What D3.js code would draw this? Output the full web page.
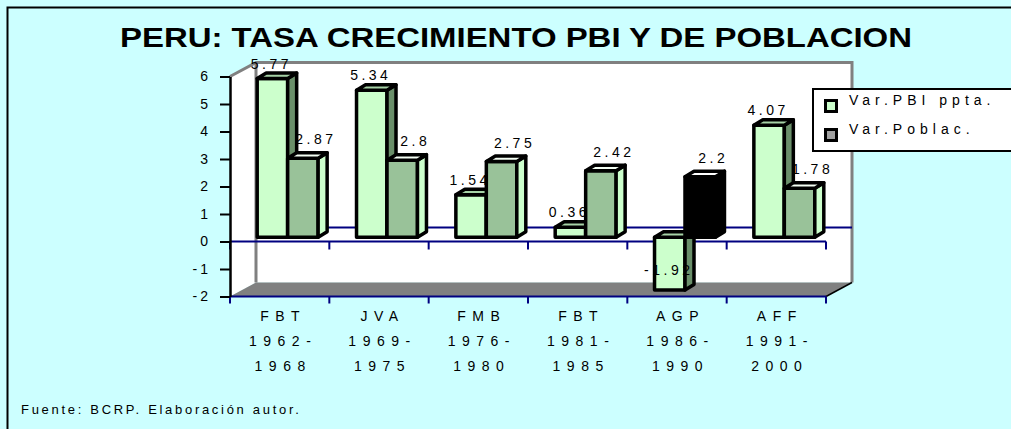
<!DOCTYPE html>
<html>
<head>
<meta charset="utf-8">
<script src="https://cdn.jsdelivr.net/npm/d3@7"></script>
<style>
body { margin: 0; background: #fff; }
svg { display: block; font-family: "Liberation Sans", Arial, sans-serif; }
</style>
</head>
<body>
<svg id="chart"></svg>
<script>
// data
var presidents = ['FBT', 'JVA', 'FMB', 'FBT', 'AGP', 'AFF']
var periodStart = ['1962', '1969', '1976', '1981', '1986', '1991']
var periodEnd = ['1968', '1975', '1980', '1985', '1990', '2000']
var seriesNames = ['Var.PBI ppta.', 'Var.Poblac.']
var pbiValues = [5.77, 5.34, 1.54, 0.36, -1.92, 4.07]
var poblacValues = [2.87, 2.8, 2.75, 2.42, 2.2, 1.78]
var yTicks = [-2, -1, 0, 1, 2, 3, 4, 5, 6]
var titleText = 'PERU: TASA CRECIMIENTO PBI Y DE POBLACION'
var sourceText = 'Fuente: BCRP. Elaboración autor.'

var width = 1011
var height = 429

// front plane of the 3d box (note: "top" is taken by window.top)
var plotLeft = 230, plotRight = 826, plotTop = 76.5, plotBottom = 296.5
// wall depth, bar offset from the front and bar thickness
var depthX = 26, depthY = -14
var barOffX = 8, barOffY = -4.3
var barDX = 9, barDY = -5.5

var navy = '#000080'
var wallGray = '#808080'
// the AGP population bar came out black in the original
var blackPoint = 4

var svg = d3.select('#chart').attr('width', width).attr('height', height)

var categories = presidents.map(function (p, i) { return i })
var x0 = d3.scaleBand().domain(categories).range([plotLeft, plotRight])
var x1 = d3.scaleBand().domain(seriesNames).range([0, x0.bandwidth()]).paddingOuter(0.63)
var y = d3.scaleLinear().domain([d3.min(yTicks), d3.max(yTicks)]).range([plotBottom, plotTop])

var line = d3.line()

// background + frame
svg.append('rect').attr('width', width).attr('height', height).attr('fill', '#CCFFFF')
svg.append('rect')
    .attr('x', 7.5).attr('y', 7.5)
    .attr('width', width + 20).attr('height', height + 20)
    .attr('fill', 'none').attr('stroke', '#000').attr('stroke-width', 2)

svg.append('text')
    .attr('x', 120).attr('y', 47)
    .attr('font-size', 27).attr('font-weight', 'bold')
    .attr('textLength', 792).attr('lengthAdjust', 'spacingAndGlyphs')
    .text(titleText)

// walls and floor
var yTop = y(d3.max(yTicks)), yBot = y(d3.min(yTicks))
var walls = svg.append('g').attr('class', 'walls')
walls.append('path')
    .attr('d', line([[plotLeft, yTop], [plotLeft + depthX, yTop + depthY], [plotLeft + depthX, yBot + depthY], [plotLeft, yBot]]) + 'Z')
    .attr('fill', '#fff')
walls.append('rect')
    .attr('x', plotLeft + depthX).attr('y', yTop + depthY)
    .attr('width', plotRight - plotLeft).attr('height', yBot - yTop)
    .attr('fill', '#fff')
walls.append('path')
    .attr('d', line([[plotLeft, yBot], [plotLeft + depthX, yBot + depthY], [plotRight + depthX, yBot + depthY], [plotRight, yBot]]) + 'Z')
    .attr('fill', wallGray)
walls.append('path')
    .attr('d', line([[plotLeft, yTop], [plotLeft + depthX, yTop + depthY], [plotRight + depthX, yTop + depthY], [plotRight + depthX, yBot + depthY]]))
    .attr('fill', 'none').attr('stroke', wallGray).attr('stroke-width', 3)
walls.append('path')
    .attr('d', line([[plotLeft + depthX, yTop + depthY], [plotLeft + depthX, yBot + depthY]]))
    .attr('stroke', wallGray).attr('stroke-width', 3)
walls.append('path')
    .attr('d', line([[plotRight, yBot], [plotRight + depthX, yBot + depthY]]))
    .attr('stroke', '#000').attr('stroke-width', 1.5)
// zero line on the back wall
walls.append('path')
    .attr('d', line([[plotLeft + depthX, y(0) + depthY], [plotRight + depthX, y(0) + depthY]]))
    .attr('stroke', navy).attr('stroke-width', 2)

// category axes: one at zero, one at the floor
var bounds = categories.map(function (c) { return x0(c) }).concat([plotRight])
function catAxis(yy, tick) {
    var g = svg.append('g')
    g.append('path').attr('d', line([[plotLeft, yy], [plotRight, yy]]))
        .attr('stroke', navy).attr('stroke-width', 2)
    g.selectAll('.tick').data(bounds).enter().append('path')
        .attr('d', function (b) { return line([[b, yy], [b, yy + tick]]) })
        .attr('stroke', navy).attr('stroke-width', 2)
}
catAxis(y(0), 8)
catAxis(yBot, 7)

// value axis
var yAxis = svg.append('g')
    .attr('transform', 'translate(' + plotLeft + ',0)')
    .call(d3.axisLeft(y).tickValues(yTicks).tickSize(10).tickSizeOuter(0).tickPadding(9)
        .tickFormat(function (d) { return String(d) }))
yAxis.select('.domain').attr('stroke', '#000').attr('stroke-width', 2.5)
yAxis.selectAll('.tick line').attr('stroke', '#000').attr('stroke-width', 2)
yAxis.selectAll('.tick text')
    .attr('font-family', '"Liberation Sans", Arial, sans-serif')
    .attr('font-size', 14).attr('fill', '#000')
    .style('letter-spacing', '3px')

// category labels, three lines each
var catLabels = svg.append('g').attr('font-size', 14).style('letter-spacing', '6.5px')
categories.forEach(function (c) {
    var lines = [presidents[c], periodStart[c] + '-', periodEnd[c]]
    var cx = x0(c) + x0.bandwidth() / 2 + 3.5
    catLabels.selectAll(null).data(lines).enter().append('text')
        .attr('x', cx)
        .attr('y', function (t, i) { return 321 + i * 25 })
        .attr('text-anchor', 'middle')
        .text(function (t) { return t })
})

// bars
var barData = []
categories.forEach(function (c) {
    barData.push({ cat: c, series: seriesNames[0], s: 0, value: pbiValues[c] })
    barData.push({ cat: c, series: seriesNames[1], s: 1, value: poblacValues[c] })
})

function faces(d) {
    var xl = x0(d.cat) + x1(d.series) + barOffX
    var xr = xl + x1.bandwidth()
    var yt = y(Math.max(0, d.value)) + barOffY
    var yb = y(Math.min(0, d.value)) + barOffY
    return {
        xl: xl, xr: xr, yt: yt, yb: yb,
        front: [[xl, yt], [xr, yt], [xr, yb], [xl, yb]],
        top: [[xl, yt], [xl + barDX, yt + barDY], [xr + barDX, yt + barDY], [xr, yt]],
        side: [[xr, yt], [xr + barDX, yt + barDY], [xr + barDX, yb + barDY], [xr, yb]]
    }
}

function colors(d) {
    if (d.s === 1 && d.cat === blackPoint) return { front: '#000', top: '#fff', side: '#000' }
    if (d.s === 0) return { front: '#CCFFCC', top: '#A6D2A6', side: '#6A8F6A' }
    return { front: '#99C299', top: '#F4FFF4', side: '#CCFFCC' }
}

var barGroup = svg.append('g')
barData.forEach(function (d) {
    var f = faces(d)
    var col = colors(d)
    var g = barGroup.append('g')
        .attr('stroke', '#000').attr('stroke-width', 3.5).attr('stroke-linejoin', 'round')
    ;['front', 'side', 'top'].forEach(function (k) {
        g.append('path').attr('d', line(f[k]) + 'Z').attr('fill', col[k])
    })
    // label right after its own bar so the next bar can cover it
    var lx, ly
    if (d.s === 0) {
        lx = (f.xl + f.xr) / 2 - 3
        ly = d.value < 0 ? f.yb - 15 : f.yt - 10
    } else {
        lx = (f.xl + f.xr) / 2 + 11
        ly = f.yt - 14
    }
    barGroup.append('text')
        .attr('x', lx + 2).attr('y', ly)
        .attr('text-anchor', 'middle')
        .attr('font-size', 14)
        .style('letter-spacing', '3.5px')
        .text(String(d.value))
})

// legend
var legend = svg.append('g')
legend.append('rect')
    .attr('x', 813).attr('y', 89).attr('width', 220).attr('height', 62)
    .attr('fill', '#fff').attr('stroke', '#000').attr('stroke-width', 2)
var legendFill = ['#CCFFCC', '#A0A0A0']
seriesNames.forEach(function (name, i) {
    legend.append('rect')
        .attr('x', 825.5).attr('y', 100.5 + i * 29)
        .attr('width', 11).attr('height', 11)
        .attr('fill', legendFill[i]).attr('stroke', '#000').attr('stroke-width', 3)
    legend.append('text')
        .attr('x', 849).attr('y', 105 + i * 29)
        .attr('font-size', 14)
        .style('letter-spacing', '5px')
        .text(name)
})

svg.append('text')
    .attr('x', 21).attr('y', 414)
    .attr('font-size', 13)
    .style('letter-spacing', '2.7px')
    .text(sourceText)
</script>
</body>
</html>
